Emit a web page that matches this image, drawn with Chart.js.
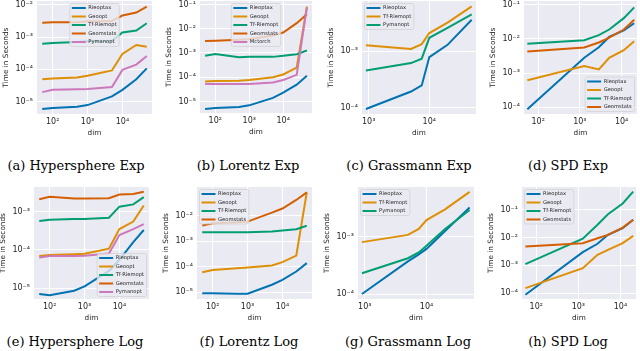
<!DOCTYPE html>
<html>
<head>
<meta charset="utf-8">
<script src="https://cdn.jsdelivr.net/npm/chart.js@4.4.1/dist/chart.umd.min.js"></script>
<style>
body { margin: 0; width: 640px; height: 351px; background: #fff; position: relative; overflow: hidden; }
canvas { position: absolute; }
.cap { position: absolute; font-family: "DejaVu Serif", serif; font-size: 13px; color: #000; white-space: nowrap; transform: translate(-50%, -50%); }
</style>
</head>
<body>
<div class="cap" style="left:76px;top:165px">(a) Hypersphere Exp</div>
<div class="cap" style="left:248px;top:165px">(b) Lorentz Exp</div>
<div class="cap" style="left:409px;top:165px">(c) Grassmann Exp</div>
<div class="cap" style="left:568px;top:165px">(d) SPD Exp</div>
<div class="cap" style="left:75px;top:341px">(e) Hypersphere Log</div>
<div class="cap" style="left:249px;top:341px">(f) Lorentz Log</div>
<div class="cap" style="left:408px;top:341px">(g) Grassmann Log</div>
<div class="cap" style="left:568px;top:341px">(h) SPD Log</div>
<script>
// dims used on the x axis
const dimSphere = [50, 100, 500, 1000, 5000, 10000, 25000, 50000];
const dimGrass = [900, 5000, 7500, 10000, 20000, 50000];
const dimSpd = [55, 1275, 2850, 5050, 11325, 20100];

// tick labels (decades)
const xTicksSphere = [1e2, 1e3, 1e4];
const xTicksGrass = [1e3, 1e4];
const xTicksSpd = [1e2, 1e3, 1e4];
const yTicksA = [1e-5, 1e-4, 1e-3, 1e-2];
const yTicksB = [1e-5, 1e-4, 1e-3, 1e-2, 1e-1];
const yTicksC = [1e-4, 1e-3];
const yTicksD = [1e-4, 1e-3, 1e-2, 1e-1];
const yTicksE = [1e-5, 1e-4, 1e-3];
const yTicksF = [1e-5, 1e-4, 1e-3, 1e-2];
const yTicksG = [1e-4, 1e-3];
const yTicksH = [1e-4, 1e-3, 1e-2, 1e-1];

// (a) Hypersphere Exp
const sphExpRieoptax = [5.8e-6, 6.3e-6, 6.9e-6, 7.7e-6, 1.43e-5, 2.3e-5, 4.9e-5, 1.07e-4];
const sphExpGeoopt = [4.9e-5, 5.2e-5, 5.6e-5, 6.3e-5, 9.2e-5, 3.0e-4, 5.7e-4, 5.0e-4];
const sphExpTf = [6.2e-4, 6.6e-4, 7.1e-4, 7.4e-4, 7.6e-4, 1.4e-3, 1.6e-3, 2.7e-3];
const sphExpGeomstats = [2.8e-3, 2.9e-3, 2.9e-3, 3.1e-3, 3.2e-3, 4.7e-3, 5.8e-3, 8.9e-3];
const sphExpPymanopt = [1.95e-5, 2.3e-5, 2.4e-5, 2.45e-5, 2.8e-5, 9.6e-5, 1.4e-4, 2.6e-4];

// (b) Lorentz Exp
const lorExpRieoptax = [4.9e-6, 5.4e-6, 5.9e-6, 6.9e-6, 1.4e-5, 2.3e-5, 4.9e-5, 1.15e-4];
const lorExpGeoopt = [6.6e-5, 7.0e-5, 7.2e-5, 7.6e-5, 1.0e-4, 1.3e-4, 2.5e-4, 8.1e-2];
const lorExpTf = [7.6e-4, 9.1e-4, 6.7e-4, 6.9e-4, 6.9e-4, 7.6e-4, 8.9e-4, 1.26e-3];
const lorExpGeomstats = [3.1e-3, 3.2e-3, 3.5e-3, 3.7e-3, 5.2e-3, 7.0e-3, 1.7e-2, 4.0e-2];
const lorExpMctorch = [5.2e-5, 5.2e-5, 5.2e-5, 5.3e-5, 6.0e-5, 7.7e-5, 1.25e-4, 7.6e-2];

// (c) Grassmann Exp
const grExpRieoptax = [9.6e-5, 1.95e-4, 2.5e-4, 7.9e-4, 1.3e-3, 3.6e-3];
const grExpTf = [1.28e-3, 1.1e-3, 1.34e-3, 2.1e-3, 3.2e-3, 6.2e-3];
const grExpPymanopt = [4.6e-4, 6.2e-4, 7.4e-4, 1.73e-3, 2.6e-3, 4.5e-3];

// (d) SPD Exp
const spdExpRieoptax = [8.6e-5, 2.8e-3, 5.7e-3, 1.15e-2, 1.8e-2, 2.9e-2];
const spdExpGeoopt = [6.1e-4, 1.6e-3, 1.27e-3, 2.8e-3, 4.7e-3, 8.6e-3];
const spdExpTf = [7.3e-3, 9.2e-3, 1.3e-2, 1.9e-2, 4.1e-2, 8.5e-2];
const spdExpGeomstats = [4.3e-3, 5.6e-3, 7.9e-3, 1.1e-2, 1.9e-2, 3.7e-2];

// (e) Hypersphere Log
const sphLogRieoptax = [7.0e-6, 6.5e-6, 8.5e-6, 1.1e-5, 2.8e-5, 5.5e-5, 1.6e-4, 3.3e-4];
const sphLogGeoopt = [6.9e-5, 7.3e-5, 7.7e-5, 7.9e-5, 1.07e-4, 3.5e-4, 5.5e-4, 1.45e-3];
const sphLogTf = [5.7e-4, 6.1e-4, 6.4e-4, 6.4e-4, 6.9e-4, 1.35e-3, 1.55e-3, 2.4e-3];
const sphLogGeomstats = [2.1e-3, 2.45e-3, 2.2e-3, 2.2e-3, 2.25e-3, 2.8e-3, 2.9e-3, 3.3e-3];
const sphLogPymanopt = [6.3e-5, 6.9e-5, 6.9e-5, 7.0e-5, 8.0e-5, 2.45e-4, 3.5e-4, 4.7e-4];

// (f) Lorentz Log
const lorLogRieoptax = [9.1e-6, 9.1e-6, 8.7e-6, 8.7e-6, 1.95e-5, 3.0e-5, 6.4e-5, 1.37e-4];
const lorLogGeoopt = [6.0e-5, 7.4e-5, 8.7e-5, 9.3e-5, 1.1e-4, 1.5e-4, 2.7e-4, 8.1e-2];
const lorLogTf = [2.2e-3, 2.2e-3, 2.2e-3, 2.2e-3, 2.36e-3, 2.6e-3, 2.9e-3, 4.0e-3];
const lorLogGeomstats = [4.1e-3, 5.0e-3, 5.5e-3, 5.8e-3, 1.3e-2, 1.9e-2, 4.1e-2, 8.1e-2];

// (g) Grassmann Log
const grLogRieoptax = [1.0e-4, 3.7e-4, 4.9e-4, 6.1e-4, 1.25e-3, 3.2e-3];
const grLogTf = [8.0e-4, 1.07e-3, 1.36e-3, 1.94e-3, 2.97e-3, 6.0e-3];
const grLogPymanopt = [2.3e-4, 4.2e-4, 5.3e-4, 6.9e-4, 1.36e-3, 2.9e-3];

// (h) SPD Log
const spdLogRieoptax = [8.7e-5, 3.0e-3, 6.0e-3, 1.26e-2, 2.2e-2, 4.4e-2];
const spdLogGeoopt = [1.5e-4, 7.9e-4, 2.4e-3, 3.6e-3, 6.3e-3, 1.15e-2];
const spdLogTf = [1.1e-3, 9.1e-3, 2.9e-2, 7.0e-2, 0.17, 0.46];
const spdLogGeomstats = [4.8e-3, 6.3e-3, 9.5e-3, 1.26e-2, 2.3e-2, 4.4e-2];

// seaborn colorblind palette
const C_BLUE = '#0173B2', C_ORANGE = '#DE8F05', C_GREEN = '#029E73', C_RED = '#D55E00', C_PINK = '#CC78BC';
const TEXT = '#262626';

const SUP = { '-': '\u207B', '0': '\u2070', '1': '\u00B9', '2': '\u00B2', '3': '\u00B3', '4': '\u2074', '5': '\u2075' };
function decadeLabel(v) {
    const e = String(Math.round(Math.log10(v)));
    return '10' + e.split('').map(ch => SUP[ch] || ch).join('');
}

const plotBg = {
    id: 'plotBg',
    beforeDraw(chart) {
        const a = chart.chartArea, ctx = chart.ctx;
        ctx.save();
        ctx.fillStyle = '#EAEAF2';
        ctx.fillRect(a.left, a.top, a.right - a.left, a.bottom - a.top);
        ctx.restore();
    }
};

// matplotlib-like legend box inside the axes
const boxLegend = {
    id: 'boxLegend',
    afterDatasetsDraw(chart, args, opts) {
        const a = chart.chartArea, ctx = chart.ctx;
        const ds = chart.data.datasets;
        ctx.save();
        ctx.font = '5.2px "DejaVu Sans"';
        const tw = Math.max(...ds.map(d => ctx.measureText(d.label).width));
        const rowH = 8.5, pad = 2.5;
        const w = 2 + 14 + 2.5 + tw + 2.5;
        const h = 9 + (ds.length - 1) * rowH;
        let x, y;
        if (opts.loc.includes('left')) x = a.left + pad;
        else if (opts.loc.includes('right')) x = a.right - pad - w;
        else x = (a.left + a.right) / 2 - w / 2;
        y = opts.loc.includes('upper') ? a.top + pad : a.bottom - pad - h;
        ctx.beginPath();
        ctx.roundRect(x, y, w, h, 2);
        ctx.fillStyle = 'rgba(234,234,242,0.8)';
        ctx.fill();
        ctx.strokeStyle = 'rgba(204,204,204,0.8)';
        ctx.lineWidth = 0.8;
        ctx.stroke();
        ds.forEach((d, i) => {
            const cy = y + 4.5 + i * rowH;
            ctx.beginPath();
            ctx.moveTo(x + 2, cy);
            ctx.lineTo(x + 16, cy);
            ctx.strokeStyle = d.borderColor;
            ctx.lineWidth = 2;
            ctx.stroke();
            ctx.fillStyle = TEXT;
            ctx.textBaseline = 'middle';
            ctx.fillText(d.label, x + 18.5, cy);
        });
        ctx.restore();
    }
};

const YW = 35, PT = 6, PR = 8, XH = 23, PB = 1;

function makeChart(c) {
    const [l, t, r, b] = c.box;
    const canvas = document.createElement('canvas');
    const cw = (r - l) + YW + PR, ch = (b - t) + PT + XH + PB;
    canvas.width = cw; canvas.height = ch;
    canvas.style.left = (l - YW) + 'px';
    canvas.style.top = (t - PT) + 'px';
    canvas.style.width = cw + 'px';
    canvas.style.height = ch + 'px';
    document.body.appendChild(canvas);

    const n = c.series.length;
    const tickFont = { family: 'DejaVu Sans', size: 8 };
    const titleFont = { family: 'DejaVu Sans', size: 7.3 };

    new Chart(canvas, {
        type: 'line',
        data: {
            datasets: c.series.map((s, i) => ({
                label: s.label,
                data: c.dims.map((d, k) => ({ x: d, y: s.data[k] })),
                borderColor: s.color,
                backgroundColor: s.color,
                borderWidth: 2,
                pointRadius: 0,
                tension: 0,
                fill: false,
                order: n - i
            }))
        },
        options: {
            responsive: false,
            animation: false,
            devicePixelRatio: 1,
            layout: { padding: { left: 0, top: PT, right: PR, bottom: PB } },
            plugins: {
                legend: { display: false },
                tooltip: { enabled: false },
                boxLegend: { loc: c.legend }
            },
            scales: {
                x: {
                    type: 'logarithmic',
                    bounds: 'data',
                    min: Math.pow(10, c.x[0]),
                    max: Math.pow(10, c.x[1]),
                    border: { display: false },
                    grid: { color: '#ffffff', lineWidth: 1, drawTicks: false },
                    ticks: { font: tickFont, color: TEXT, padding: 3.5, maxRotation: 0, autoSkip: false, callback: v => decadeLabel(v) },
                    title: { display: true, text: 'dim', font: titleFont, color: TEXT, padding: 0 },
                    afterBuildTicks: s => { s.ticks = c.xTicks.map(v => ({ value: v })); },
                    afterFit: s => { s.height = XH; s.paddingLeft = 0; s.paddingRight = 0; }
                },
                y: {
                    type: 'logarithmic',
                    bounds: 'data',
                    min: Math.pow(10, c.y[0]),
                    max: Math.pow(10, c.y[1]),
                    border: { display: false },
                    grid: { color: '#ffffff', lineWidth: 1, drawTicks: false },
                    ticks: { font: tickFont, color: TEXT, padding: 4, autoSkip: false, callback: v => decadeLabel(v) },
                    title: { display: true, text: 'Time in Seconds', font: titleFont, color: TEXT, padding: 0 },
                    afterBuildTicks: s => { s.ticks = c.yTicks.map(v => ({ value: v })); },
                    afterFit: s => { s.width = YW; s.paddingTop = 0; s.paddingBottom = 0; }
                }
            }
        },
        plugins: [plotBg, boxLegend]
    });
}

makeChart({
    box: [37, 1, 152, 114], x: [1.549, 4.849], y: [-5.39, -1.876],
    dims: dimSphere, xTicks: xTicksSphere, yTicks: yTicksA, legend: 'upper center',
    series: [
        { label: 'Rieoptax', data: sphExpRieoptax, color: C_BLUE },
        { label: 'Geoopt', data: sphExpGeoopt, color: C_ORANGE },
        { label: 'Tf-Riemopt', data: sphExpTf, color: C_GREEN },
        { label: 'Geomstats', data: sphExpGeomstats, color: C_RED },
        { label: 'Pymanopt', data: sphExpPymanopt, color: C_PINK }
    ]
});
makeChart({
    box: [200, 1, 312, 113], x: [1.549, 4.849], y: [-5.477, -0.856],
    dims: dimSphere, xTicks: xTicksSphere, yTicks: yTicksB, legend: 'upper center',
    series: [
        { label: 'Rieoptax', data: lorExpRieoptax, color: C_BLUE },
        { label: 'Geoopt', data: lorExpGeoopt, color: C_ORANGE },
        { label: 'Tf-Riemopt', data: lorExpTf, color: C_GREEN },
        { label: 'Geomstats', data: lorExpGeomstats, color: C_RED },
        { label: 'Mctorch', data: lorExpMctorch, color: C_PINK }
    ]
});
makeChart({
    box: [362, 1, 476, 114], x: [2.89, 4.77], y: [-4.106, -2.113],
    dims: dimGrass, xTicks: xTicksGrass, yTicks: yTicksC, legend: 'upper left',
    series: [
        { label: 'Rieoptax', data: grExpRieoptax, color: C_BLUE },
        { label: 'Tf-Riemopt', data: grExpTf, color: C_ORANGE },
        { label: 'Pymanopt', data: grExpPymanopt, color: C_GREEN }
    ]
});
makeChart({
    box: [524, 1, 637, 114], x: [1.66, 4.37], y: [-4.205, -0.883],
    dims: dimSpd, xTicks: xTicksSpd, yTicks: yTicksD, legend: 'lower right',
    series: [
        { label: 'Rieoptax', data: spdExpRieoptax, color: C_BLUE },
        { label: 'Geoopt', data: spdExpGeoopt, color: C_ORANGE },
        { label: 'Tf-Riemopt', data: spdExpTf, color: C_GREEN },
        { label: 'Geomstats', data: spdExpGeomstats, color: C_RED }
    ]
});
makeChart({
    box: [34, 187, 149, 299], x: [1.549, 4.849], y: [-5.287, -2.355],
    dims: dimSphere, xTicks: xTicksSphere, yTicks: yTicksE, legend: 'lower right',
    series: [
        { label: 'Rieoptax', data: sphLogRieoptax, color: C_BLUE },
        { label: 'Geoopt', data: sphLogGeoopt, color: C_ORANGE },
        { label: 'Tf-Riemopt', data: sphLogTf, color: C_GREEN },
        { label: 'Geomstats', data: sphLogGeomstats, color: C_RED },
        { label: 'Pymanopt', data: sphLogPymanopt, color: C_PINK }
    ]
});
makeChart({
    box: [197, 187, 312, 299], x: [1.549, 4.849], y: [-5.27, -0.879],
    dims: dimSphere, xTicks: xTicksSphere, yTicks: yTicksF, legend: 'upper left',
    series: [
        { label: 'Rieoptax', data: lorLogRieoptax, color: C_BLUE },
        { label: 'Geoopt', data: lorLogGeoopt, color: C_ORANGE },
        { label: 'Tf-Riemopt', data: lorLogTf, color: C_GREEN },
        { label: 'Geomstats', data: lorLogGeomstats, color: C_RED }
    ]
});
makeChart({
    box: [358, 187, 474, 299], x: [2.89, 4.77], y: [-4.087, -2.137],
    dims: dimGrass, xTicks: xTicksGrass, yTicks: yTicksG, legend: 'upper left',
    series: [
        { label: 'Rieoptax', data: grLogRieoptax, color: C_BLUE },
        { label: 'Tf-Riemopt', data: grLogTf, color: C_ORANGE },
        { label: 'Pymanopt', data: grLogPymanopt, color: C_GREEN }
    ]
});
makeChart({
    box: [522, 187, 636, 299], x: [1.66, 4.37], y: [-4.216, -0.173],
    dims: dimSpd, xTicks: xTicksSpd, yTicks: yTicksH, legend: 'upper left',
    series: [
        { label: 'Rieoptax', data: spdLogRieoptax, color: C_BLUE },
        { label: 'Geoopt', data: spdLogGeoopt, color: C_ORANGE },
        { label: 'Tf-Riemopt', data: spdLogTf, color: C_GREEN },
        { label: 'Geomstats', data: spdLogGeomstats, color: C_RED }
    ]
});
</script>
</body>
</html>
